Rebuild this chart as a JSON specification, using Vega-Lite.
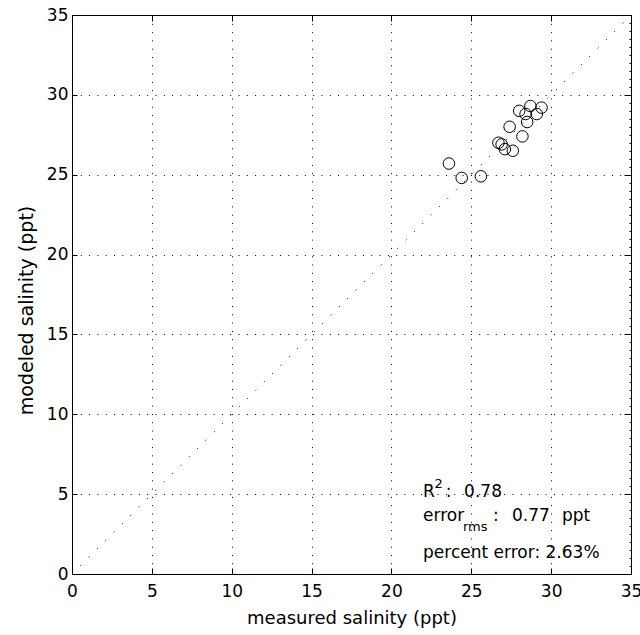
{
  "$schema": "https://vega.github.io/schema/vega-lite/v6.json",
  "width": 559,
  "height": 559,
  "autosize": "none",
  "padding": {"left": 72, "top": 15, "right": 9, "bottom": 61},
  "background": "white",
  "config": {
    "view": {"stroke": "black", "strokeWidth": 1},
    "font": "DejaVu Sans",
    "axis": {
      "domain": false,
      "tickColor": "black",
      "labelColor": "black",
      "titleColor": "black",
      "labelFont": "DejaVu Sans",
      "titleFont": "DejaVu Sans",
      "titleFontWeight": "normal",
      "labelFontSize": 17,
      "titleFontSize": 18,
      "labelFlush": false
    }
  },
  "datasets": {
    "points": [
      {"measured": 23.6, "modeled": 25.7},
      {"measured": 24.4, "modeled": 24.8},
      {"measured": 25.6, "modeled": 24.9},
      {"measured": 26.7, "modeled": 27.0},
      {"measured": 26.9, "modeled": 26.9},
      {"measured": 27.1, "modeled": 26.6},
      {"measured": 27.6, "modeled": 26.5},
      {"measured": 27.4, "modeled": 28.0},
      {"measured": 28.2, "modeled": 27.4},
      {"measured": 28.0, "modeled": 29.0},
      {"measured": 28.4, "modeled": 28.8},
      {"measured": 28.5, "modeled": 28.3},
      {"measured": 28.7, "modeled": 29.3},
      {"measured": 29.1, "modeled": 28.8},
      {"measured": 29.4, "modeled": 29.2}
    ],
    "diag": [
      {"measured": 0, "modeled": 0},
      {"measured": 35, "modeled": 35}
    ],
    "labels": [
      {"x": 21.98, "y": 4.82, "t": "R"},
      {"x": 23.4, "y": 4.82, "t": ":"},
      {"x": 24.55, "y": 4.82, "t": "0.78"},
      {"x": 21.98, "y": 3.32, "t": "error"},
      {"x": 26.36, "y": 3.32, "t": ":"},
      {"x": 27.55, "y": 3.32, "t": "0.77"},
      {"x": 30.68, "y": 3.32, "t": "ppt"},
      {"x": 21.98, "y": 1.0, "t": "percent error: 2.63%"}
    ],
    "scripts": [
      {"x": 22.7, "y": 5.39, "t": "2"},
      {"x": 24.48, "y": 2.69, "t": "rms"}
    ]
  },
  "layer": [
    {
      "data": {"name": "diag"},
      "mark": {"type": "line", "color": "black", "strokeWidth": 1, "strokeDash": [1, 10.8]},
      "encoding": {
        "x": {"field": "measured", "type": "quantitative",
              "scale": {"domain": [0, 35], "nice": false, "zero": false},
              "axis": {"orient": "top", "values": [0,5,10,15,20,25,30,35], "labels": false, "grid": false, "tickSize": -6, "title": null}},
        "y": {"field": "modeled", "type": "quantitative",
              "scale": {"domain": [0, 35], "nice": false, "zero": false},
              "axis": {"orient": "right", "values": [0,5,10,15,20,25,30,35], "labels": false, "grid": false, "tickSize": -7, "title": null}}
      }
    },
    {
      "data": {"name": "points"},
      "mark": {"type": "point", "shape": "circle", "filled": false, "color": "black", "strokeWidth": 1, "size": 133, "opacity": 1},
      "encoding": {
        "x": {"field": "measured", "type": "quantitative",
              "axis": {"orient": "bottom", "values": [0,5,10,15,20,25,30,35], "grid": true, "gridColor": "black", "gridOpacity": 1, "gridWidth": 1, "gridDash": [1, 7.3], "tickSize": -6, "labelPadding": 15, "title": "measured salinity (ppt)", "titlePadding": 10}},
        "y": {"field": "modeled", "type": "quantitative",
              "axis": {"orient": "left", "values": [0,5,10,15,20,25,30,35], "grid": true, "gridColor": "black", "gridOpacity": 1, "gridWidth": 1, "gridDash": [1, 7.3], "tickSize": -5, "labelPadding": 9, "title": "modeled salinity (ppt)", "titleFontSize": 19, "titlePadding": 10, "titleY": 295}}
      }
    },
    {
      "data": {"name": "labels"},
      "mark": {"type": "text", "align": "left", "baseline": "alphabetic", "fontSize": 17, "color": "black", "font": "DejaVu Sans"},
      "encoding": {
        "x": {"field": "x", "type": "quantitative", "axis": null},
        "y": {"field": "y", "type": "quantitative",
              "axis": {"orient": "right", "values": [0.5,1,1.5,2,2.5,3,3.5,4,4.5,5.5,6,6.5,7,7.5,8,8.5,9,9.5,10.5,11,11.5,12,12.5,13,13.5,14,14.5,15.5,16,16.5,17,17.5,18,18.5,19,19.5,20.5,21,21.5,22,22.5,23,23.5,24,24.5,25.5,26,26.5,27,27.5,28,28.5,29,29.5,30.5,31,31.5,32,32.5,33,33.5,34,34.5], "labels": false, "grid": false, "tickSize": -2, "title": null}},
        "text": {"field": "t"}
      }
    },
    {
      "data": {"name": "scripts"},
      "mark": {"type": "text", "align": "left", "baseline": "alphabetic", "fontSize": 13, "color": "black", "font": "DejaVu Sans"},
      "encoding": {
        "x": {"field": "x", "type": "quantitative", "axis": null},
        "y": {"field": "y", "type": "quantitative", "axis": null},
        "text": {"field": "t"}
      }
    }
  ],
  "resolve": {"axis": {"x": "independent", "y": "independent"}}
}
